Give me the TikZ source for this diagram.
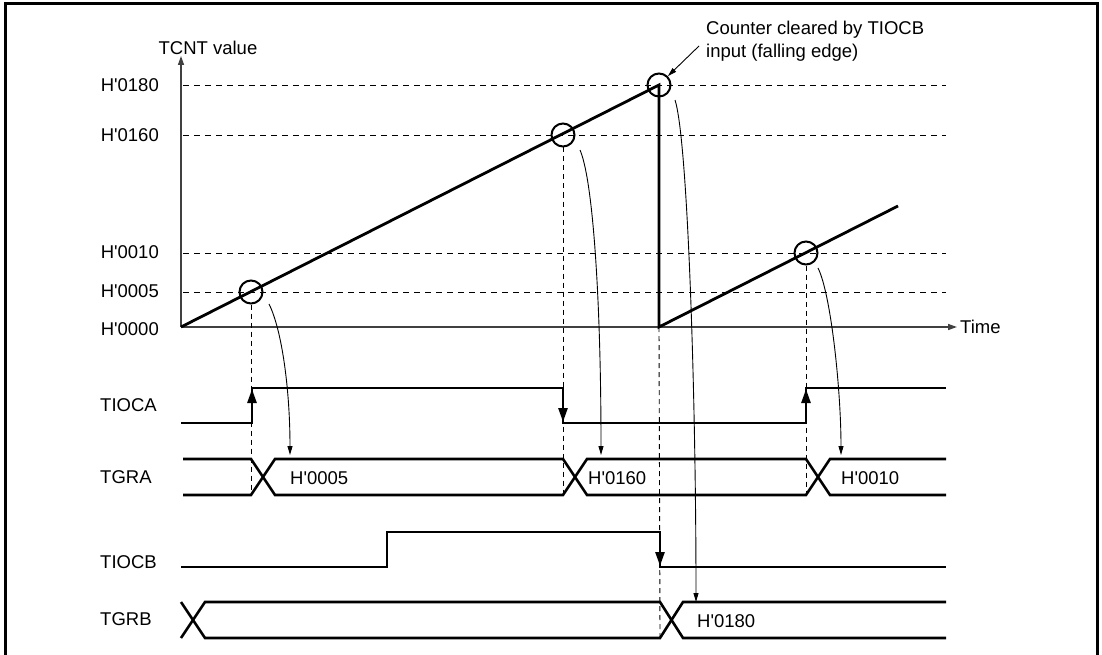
\documentclass[tikz,border=0pt]{standalone}
\usepackage{fontspec}
\setmainfont{Liberation Sans}
\usetikzlibrary{arrows.meta}
\newcommand{\hq}{\textquotesingle}
\begin{document}
\begin{tikzpicture}[x=1pt,y=-1pt,
  lbl/.style={font=\fontsize{18.5}{23}\selectfont, inner sep=0pt},
  sig/.style={line width=2.6pt, line join=miter},
  ramp/.style={line width=2.8pt},
  guide/.style={line width=0.9pt, dash pattern=on 6pt off 5pt},
  vguide/.style={line width=0.9pt, dash pattern=on 5pt off 4pt},
  axis/.style={line width=1.5pt, draw=black!75},
  ring/.style={circle, draw, line width=2pt, minimum size=23pt, inner sep=0pt},
  xfer/.style={line width=0.9pt, -{Triangle[length=9pt,width=5pt]}},
  edgearrow/.style={line width=2.6pt, -{Triangle[length=14pt,width=9pt]}}
]
\useasboundingbox (0,0) rectangle (1102,655);
% frame
\draw[line width=3pt] (5,656) -- (5,4) -- (1097,4) -- (1097,656);

% axes
\coordinate (orig) at (181,327);
\coordinate (ytop) at (181,56);
\coordinate (xend) at (957,327);
\draw[axis, -{Triangle[length=9pt,width=6pt]}] (orig) -- (ytop);
\draw[axis, -{Triangle[length=9pt,width=6pt]}] (orig) -- (xend);
\node[lbl, anchor=south] (tcnt) at (208,55) {TCNT value};
\node[lbl, anchor=west] (time) at (960,327) {Time};

% value labels
\node[lbl, anchor=east] (v180) at (159,85) {H\hq0180};
\node[lbl, anchor=east] (v160) at (159,135) {H\hq0160};
\node[lbl, anchor=east] (v010) at (159,252) {H\hq0010};
\node[lbl, anchor=east] (v005) at (159,291) {H\hq0005};
\node[lbl, anchor=east] (v000) at (159,329) {H\hq0000};

% dashed horizontals
\foreach \yy in {85,135,253,292}
  \draw[guide] (183,\yy) -- (946,\yy);

% ramps
\coordinate (top) at (659,85);
\coordinate (bot) at (659,327);
\coordinate (r2end) at (898,206);
\draw[ramp] (orig) -- (top) -- (bot) -- (r2end);

% circles
\node[ring] (c1) at (251,292) {};
\node[ring] (c2) at (563,135) {};
\node[ring] (c3) at (659,85) {};
\node[ring] (c4) at (806,253) {};

% vertical dashed guides
\draw[vguide] (c1.south) -- (251,495);
\draw[vguide] (c2.south) -- (563,495);
\draw[vguide] (bot) -- (660,638);
\draw[vguide] (c4.south) -- (806,495);

% signal names
\node[lbl, anchor=west] (nA) at (100,405) {TIOCA};
\node[lbl, anchor=west] (nGA) at (100,477) {TGRA};
\node[lbl, anchor=west] (nB) at (100,562) {TIOCB};
\node[lbl, anchor=west] (nGB) at (100,619) {TGRB};

% TIOCA
\draw[sig] (181,423) -- (252,423) -- (252,388) -- (563,388) -- (563,423) -- (806,423) -- (806,388) -- (946,388);
\draw[edgearrow] (252,423) -- (252,389);
\draw[edgearrow] (563,388) -- (563,422);
\draw[edgearrow] (806,423) -- (806,389);

% TGRA
\draw[sig] (183,459) -- (251,459) -- (275,495) -- (563,495) -- (587,459) -- (806,459) -- (830,495) -- (946,495);
\draw[sig] (183,495) -- (251,495) -- (275,459) -- (563,459) -- (587,495) -- (806,495) -- (830,459) -- (946,459);
\node[lbl, anchor=west] (a005) at (290,478) {H\hq0005};
\node[lbl, anchor=west] (a160) at (588,478) {H\hq0160};
\node[lbl, anchor=west] (a010) at (841,478) {H\hq0010};

% TIOCB
\draw[sig] (181,567) -- (387,567) -- (387,532) -- (660,532) -- (660,567) -- (946,567);
\draw[edgearrow] (660,532) -- (660,566);

% TGRB
\draw[sig] (181,602) -- (205,638) -- (660,638) -- (683,602) -- (946,602);
\draw[sig] (181,638) -- (205,602) -- (660,602) -- (683,638) -- (946,638);
\node[lbl, anchor=west] (b180) at (697,621) {H\hq0180};

% curved transfer arrows
\draw[xfer] (269,304) .. controls (282,330) and (290,390) .. (290,455);
\draw[xfer] (580,150) .. controls (593,180) and (601,300) .. (601,455);
\draw[xfer] (675,100) .. controls (688,140) and (696,400) .. (696,602);
\draw[xfer] (818,268) .. controls (831,294) and (841,390) .. (841,455);

% annotation
\node[lbl, anchor=north west, align=left] (note) at (706,21) {Counter cleared by TIOCB\\input (falling edge)};
\draw[xfer] (699,46) -- (c3.north east);
\end{tikzpicture}
\end{document}
